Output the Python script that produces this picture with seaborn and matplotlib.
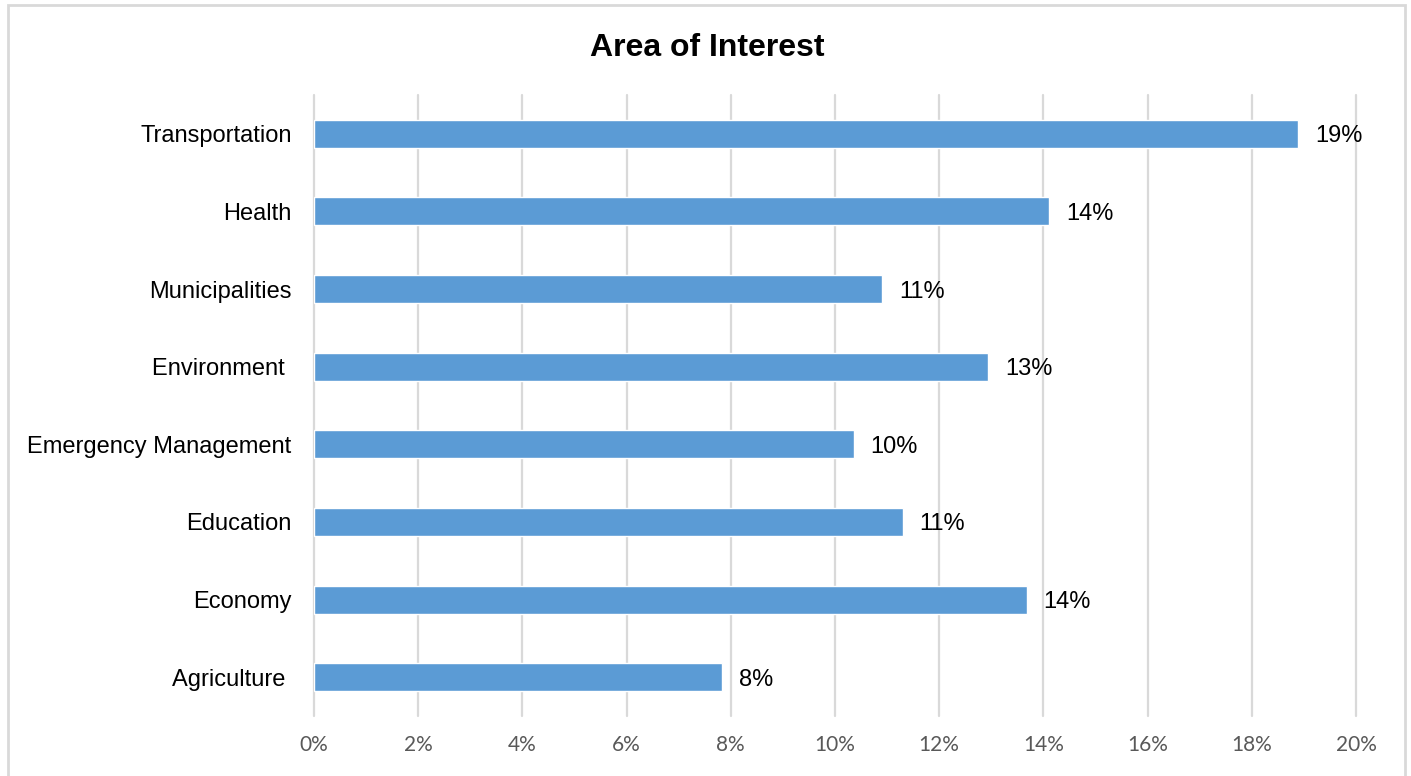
import matplotlib
matplotlib.use("Agg")
import matplotlib.pyplot as plt
from matplotlib.patches import Rectangle
from matplotlib.ticker import PercentFormatter
import seaborn as sns
import pandas as pd

categories = ["Transportation", "Health", "Municipalities", "Environment ",
              "Emergency Management", "Education", "Economy", "Agriculture "]
shares = [18.89, 14.11, 10.90, 12.94, 10.36, 11.30, 13.68, 7.83]
x_ticks = [0, 2, 4, 6, 8, 10, 12, 14, 16, 18, 20]

df = pd.DataFrame({"area": categories, "share": shares})

sns.set_theme(style="white")
plt.rcParams["font.family"] = ["Liberation Sans", "DejaVu Sans"]

fig = plt.figure(figsize=(14.11, 7.76), dpi=100)
ax = fig.add_axes([0.2225, 0.0773, 0.961 - 0.2225, 0.8776 - 0.0773])

sns.barplot(data=df, x="share", y="area", order=categories, orient="h",
            color="#5B9BD5", saturation=1, width=0.36, ax=ax, zorder=3)

ax.set_xlim(0, 20)
ax.set_xticks(x_ticks)
ax.xaxis.set_major_formatter(PercentFormatter(decimals=0))
ax.grid(axis="x", color="#D9D9D9", linewidth=1.6, zorder=0)
ax.grid(axis="y", visible=False)
for gl in ax.get_xgridlines():
    gl.set_clip_on(False)
for s in ax.spines.values():
    s.set_visible(False)
ax.tick_params(axis="both", length=0)
ax.tick_params(axis="y", labelsize=17, colors="black", pad=16)
ax.tick_params(axis="x", pad=14)
for lbl in ax.get_xticklabels():
    lbl.set_fontfamily(["Lato", "DejaVu Sans"])
    lbl.set_fontsize(15)
    lbl.set_color("#595959")
ax.set_xlabel("")
ax.set_ylabel("")

for bar, v in zip(ax.patches, shares):
    ax.annotate(f"{v:.0f}%", xy=(bar.get_width(), bar.get_y() + bar.get_height() / 2),
                xytext=(17, 0), textcoords="offset pixels", va="center_baseline",
                ha="left", fontsize=17, color="black")

fig.text(0.501, 0.938, "Area of Interest", ha="center", va="center",
         fontsize=23, fontweight="bold", color="black")

fig.patches.append(Rectangle((8 / 1411, -0.05), 1397 / 1411, 1.05 - 5 / 776,
                             transform=fig.transFigure, fill=False,
                             edgecolor="#D9D9D9", linewidth=2))

fig.savefig("out.png", dpi=100)
